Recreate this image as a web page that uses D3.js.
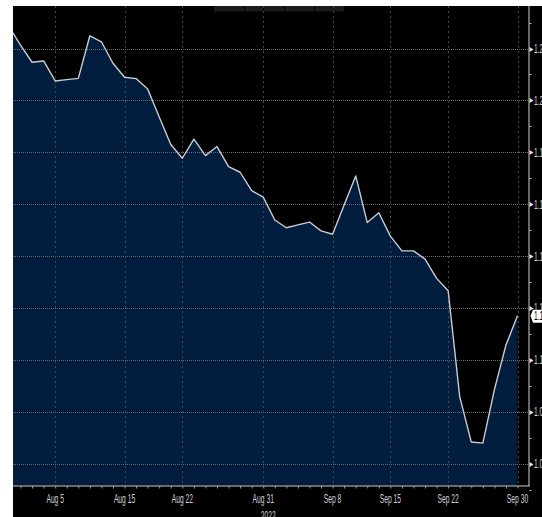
<!DOCTYPE html>
<html lang="en">
<head>
  <meta charset="utf-8">
  <title>GBP/USD Aug - Sep 2022</title>
  <style>
    body { margin: 0; background: #fff; overflow: hidden; }
    svg { display: block; }
    .lbl { font-family: "Liberation Sans", Arial, sans-serif; font-size: 12px; fill: #cfd2d6; }
  </style>
</head>
<body>
  <svg id="chart"></svg>

  <script src="https://d3js.org/d3.v7.min.js"></script>
  <script>
    // business days, Aug 1 .. Sep 30 2022
    const dates = [
      "Aug 1", "Aug 2", "Aug 3", "Aug 4", "Aug 5",
      "Aug 8", "Aug 9", "Aug 10", "Aug 11", "Aug 12",
      "Aug 15", "Aug 16", "Aug 17", "Aug 18", "Aug 19",
      "Aug 22", "Aug 23", "Aug 24", "Aug 25", "Aug 26",
      "Aug 29", "Aug 30", "Aug 31", "Sep 1", "Sep 2",
      "Sep 5", "Sep 6", "Sep 7", "Sep 8", "Sep 9",
      "Sep 12", "Sep 13", "Sep 14", "Sep 15", "Sep 16",
      "Sep 19", "Sep 20", "Sep 21", "Sep 22", "Sep 23",
      "Sep 26", "Sep 27", "Sep 28", "Sep 29", "Sep 30"
    ];
    const values = [
      1.2285, 1.2213, 1.2147, 1.2152, 1.2075,
      1.2080, 1.2085, 1.2249, 1.2226, 1.2143,
      1.2089, 1.2084, 1.2044, 1.1936, 1.1830,
      1.1777, 1.1851, 1.1787, 1.1822, 1.1745,
      1.1723, 1.1652, 1.1627, 1.1539, 1.1509,
      1.1520, 1.1531, 1.1497, 1.1484, 1.1597,
      1.1709, 1.1529, 1.1567, 1.1477, 1.1420,
      1.1420, 1.1388, 1.1314, 1.1266, 1.0858,
      1.0683, 1.0679, 1.0885, 1.1057, 1.1170
    ];
    const xTickLabels = ["Aug 5", "Aug 15", "Aug 22", "Aug 31", "Sep 8", "Sep 15", "Sep 22", "Sep 30"];
    const yTicks = [1.22, 1.20, 1.18, 1.16, 1.14, 1.12, 1.10, 1.08, 1.06];
    const yearLabel = "2022";

    const width = 542, height = 517;
    const plotLeft = 13, plotRight = 528.5, plotTop = 6, plotBottom = 485.5;

    const svg = d3.select("#chart").attr("width", width).attr("height", height);

    // black panel, white strip left and top
    svg.append("rect")
      .attr("x", plotLeft).attr("y", plotTop)
      .attr("width", width - plotLeft).attr("height", height - plotTop)
      .attr("fill", "#000");

    // faint tab bar at the top
    const tabs = [[214, 244], [245, 263], [264, 284], [285, 314], [315, 344]];
    svg.append("g").selectAll("rect")
      .data(tabs)
      .join("rect")
      .attr("x", d => d[0]).attr("y", plotTop)
      .attr("width", d => d[1] - d[0]).attr("height", 5.5)
      .attr("fill", "#1b1b1b");

    const x = d3.scaleLinear().domain([0.35, 44.95]).range([plotLeft, plotRight]);
    const y = d3.scaleLinear().domain([1.22, 1.06]).range([48.5, 463.6]);

    const data = values.map((v, i) => ({ i, v }));

    svg.append("defs").append("clipPath").attr("id", "plotClip")
      .append("rect")
      .attr("x", plotLeft).attr("y", plotTop)
      .attr("width", plotRight - plotLeft).attr("height", plotBottom - plotTop);

    const plot = svg.append("g").attr("clip-path", "url(#plotClip)");

    const area = d3.area()
      .x(d => x(d.i))
      .y0(plotBottom)
      .y1(d => y(d.v));

    plot.append("path")
      .datum(data)
      .attr("fill", "#021d3d")
      .attr("d", area);

    // grid
    plot.append("g")
      .selectAll("line")
      .data(yTicks)
      .join("line")
      .attr("x1", plotLeft).attr("x2", plotRight)
      .attr("y1", d => Math.round(y(d)) + 0.5)
      .attr("y2", d => Math.round(y(d)) + 0.5)
      .attr("stroke", "#6b6b6b")
      .attr("stroke-dasharray", "1,1");

    plot.append("g")
      .selectAll("line")
      .data(xTickLabels)
      .join("line")
      .attr("x1", d => Math.round(x(dates.indexOf(d))) + 0.5)
      .attr("x2", d => Math.round(x(dates.indexOf(d))) + 0.5)
      .attr("y1", plotTop).attr("y2", plotBottom)
      .attr("stroke", "#474747")
      .attr("stroke-dasharray", "2,3");

    const line = d3.line()
      .x(d => x(d.i))
      .y(d => y(d.v));

    plot.append("path")
      .datum(data)
      .attr("fill", "none")
      .attr("stroke", "#c9ccd1")
      .attr("stroke-width", 1.4)
      .attr("stroke-linejoin", "round")
      .attr("d", line);

    // bottom axis: a small tick for every day
    const xAxis = d3.axisBottom(x)
      .tickValues(d3.range(1, dates.length))
      .tickSize(3)
      .tickFormat("");

    svg.append("g")
      .attr("transform", `translate(0,${plotBottom})`)
      .call(xAxis)
      .call(g => g.select(".domain").attr("stroke", "#d0d0d0").attr("d", `M${plotLeft},0.5H${plotRight + 1}`))
      .call(g => g.selectAll(".tick line").attr("stroke", "#9a9a9a"));

    svg.append("g")
      .selectAll("text")
      .data(xTickLabels)
      .join("text")
      .attr("class", "lbl")
      .attr("text-anchor", "middle")
      .attr("transform", d => `translate(${x(dates.indexOf(d))},503) scale(0.56,1)`)
      .text(d => d);

    svg.append("text")
      .attr("class", "lbl")
      .attr("text-anchor", "middle")
      .attr("transform", `translate(${x(dates.indexOf("Aug 31")) + 5},520) scale(0.56,1)`)
      .text(yearLabel);

    // right axis
    svg.append("line")
      .attr("x1", plotRight + 0.5).attr("x2", plotRight + 0.5)
      .attr("y1", plotTop).attr("y2", plotBottom + 0.5)
      .attr("stroke", "#d0d0d0");

    const minor = yTicks.slice(1).map((d, k) => (d + yTicks[k]) / 2);
    minor.unshift(yTicks[0] + 0.01);
    minor.push(yTicks[yTicks.length - 1] - 0.01);

    svg.append("g")
      .selectAll("line")
      .data(minor)
      .join("line")
      .attr("x1", plotRight + 1).attr("x2", plotRight + 3)
      .attr("y1", d => Math.round(y(d)) + 0.5)
      .attr("y2", d => Math.round(y(d)) + 0.5)
      .attr("stroke", "#bdbdbd");

    svg.append("g")
      .selectAll("path")
      .data(yTicks)
      .join("path")
      .attr("d", d => {
        const yy = Math.round(y(d)) + 0.5;
        return `M${plotRight + 1},${yy - 2.5}L${plotRight + 5},${yy}L${plotRight + 1},${yy + 2.5}Z`;
      })
      .attr("fill", "#e4e4e4");

    svg.append("g")
      .selectAll("text")
      .data(yTicks)
      .join("text")
      .attr("class", "lbl")
      .attr("transform", d => `translate(${plotRight + 5.5},${y(d) + 4.5}) scale(0.56,1)`)
      .text(d => d3.format(".4f")(d));

    // last value marker
    const last = values[values.length - 1];
    const ly = y(last);
    svg.append("path")
      .attr("d", `M${plotRight + 2},${ly}L${plotRight + 4.5},${ly - 6}H${width + 2}V${ly + 7}H${plotRight + 4.5}Z`)
      .attr("fill", "#ffffff");

    svg.append("text")
      .attr("class", "lbl")
      .style("fill", "#000")
      .attr("transform", `translate(${plotRight + 5.5},${ly + 4.5}) scale(0.56,1)`)
      .text(d3.format(".4f")(last));
  </script>
</body>
</html>
